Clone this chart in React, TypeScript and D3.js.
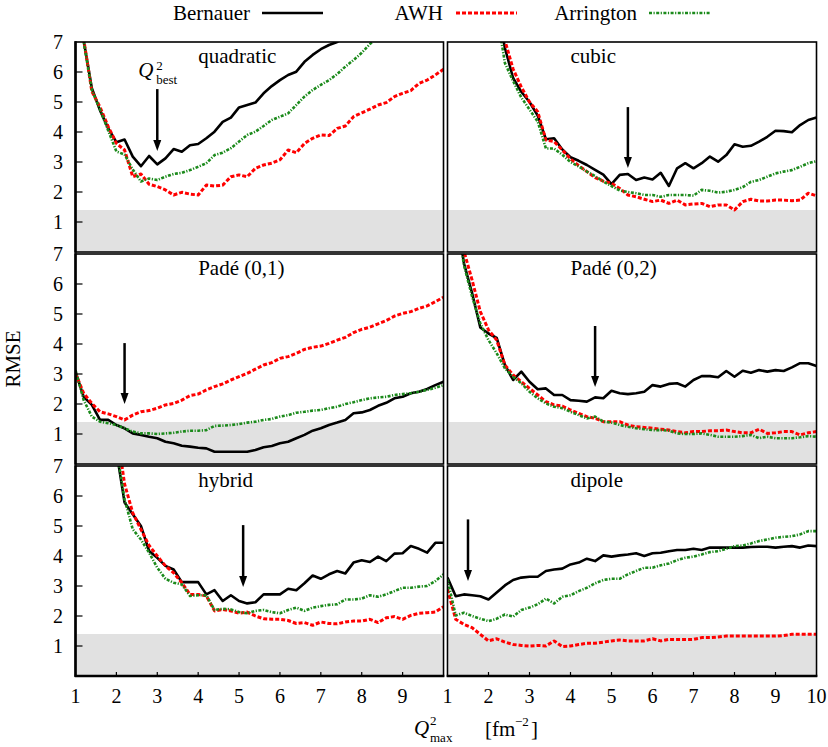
import * as d3 from 'd3'

const W = 828, H = 747
const FONT = '"Liberation Serif", "Times New Roman", serif'
const FS = 20

// Q²max grid [fm^-2]
const QMAX = [1.0, 1.2, 1.4, 1.6, 1.8, 2.0, 2.2, 2.4, 2.6, 2.8, 3.0, 3.2, 3.4, 3.6, 3.8, 4.0, 4.2, 4.4, 4.6, 4.8,
  5.0, 5.2, 5.4, 5.6, 5.8, 6.0, 6.2, 6.4, 6.6, 6.8, 7.0, 7.2, 7.4, 7.6, 7.8, 8.0, 8.2, 8.4, 8.6, 8.8,
  9.0, 9.2, 9.4, 9.6, 9.8, 10.0]

const SERIES = ['Bernauer', 'AWH', 'Arrington']
const TITLES = ['quadratic', 'cubic', 'Padé (0,1)', 'Padé (0,2)', 'hybrid', 'dipole']

// RMSE per panel / series (null = off the chart)
const quadBernauer = [9.5, 7.05, 5.46, 4.72, 4.12, 3.66, 3.75, 3.18, 2.86, 3.2, 2.92, 3.12, 3.43, 3.34, 3.56, 3.6,
  3.79, 4.01, 4.34, 4.48, 4.82, 4.9, 4.98, 5.29, 5.53, 5.73, 5.9, 6.01, 6.34, 6.57, 6.76, 6.9, 7.0, 7.2, 7.45,
  null, null, null, null, null, null, null, null, null, null, null]
const quadAWH = [9.5, 7.1, 5.35, 4.83, 4.18, 3.62, 3.4, 2.51, 2.6, 2.26, 2.18, 2.07, 1.9, 1.99, 1.93, 1.9, 2.23,
  2.2, 2.23, 2.51, 2.57, 2.51, 2.79, 2.9, 2.96, 3.07, 3.4, 3.31, 3.62, 3.79, 3.9, 3.88, 4.12, 4.2, 4.51, 4.64,
  4.76, 4.9, 4.98, 5.18, 5.29, 5.38, 5.62, 5.73, 5.9, 6.09]
const quadArrington = [9.5, 7.0, 5.4, 4.75, 4.05, 3.35, 3.25, 2.75, 2.35, 2.45, 2.4, 2.51, 2.6, 2.64, 2.73, 2.84,
  2.96, 3.23, 3.31, 3.46, 3.68, 3.9, 4.01, 4.2, 4.4, 4.51, 4.62, 4.9, 5.18, 5.4, 5.57, 5.73, 5.93, 6.18, 6.4,
  6.64, 6.93, 7.2, 7.45, null, null, null, null, null, null, null]

const cubBernauer = [null, null, null, null, null, null, 8.3, 6.8, 5.8, 5.34, 5.0, 4.55, 3.76, 3.79, 3.42, 3.16,
  3.04, 2.9, 2.74, 2.58, 2.26, 2.57, 2.6, 2.4, 2.48, 2.42, 2.64, 2.2, 2.79, 2.96, 2.79, 2.96, 3.18, 3.01, 3.23,
  3.59, 3.51, 3.54, 3.68, 3.84, 4.04, 4.03, 3.99, 4.23, 4.4, 4.48]
const cubAWH = [null, null, null, null, null, null, 8.5, 7.05, 6.1, 5.5, 5.0, 4.68, 3.73, 3.68, 3.4, 3.1, 2.88,
  2.68, 2.48, 2.36, 2.29, 2.12, 1.9, 1.84, 1.76, 1.68, 1.73, 1.62, 1.73, 1.57, 1.6, 1.62, 1.51, 1.57, 1.57, 1.4,
  1.68, 1.76, 1.7, 1.7, 1.73, 1.73, 1.71, 1.73, 1.96, 1.87]
const cubArrington = [null, null, null, null, null, null, 8.0, 6.3, 5.7, 5.15, 4.75, 4.35, 3.45, 3.45, 3.24, 3.0,
  2.85, 2.68, 2.53, 2.35, 2.2, 2.05, 2.0, 1.96, 1.9, 1.9, 1.84, 1.9, 1.9, 1.9, 1.88, 2.07, 2.04, 1.98, 2.01,
  2.07, 2.16, 2.34, 2.4, 2.51, 2.62, 2.68, 2.73, 2.84, 2.96, 3.03]

const pade01Bernauer = [3.08, 2.24, 1.97, 1.47, 1.47, 1.3, 1.19, 1.02, 0.97, 0.91, 0.86, 0.74, 0.69, 0.61, 0.58,
  0.54, 0.52, 0.41, 0.41, 0.41, 0.41, 0.41, 0.47, 0.56, 0.6, 0.69, 0.74, 0.86, 0.97, 1.11, 1.19, 1.3, 1.38, 1.47,
  1.69, 1.72, 1.8, 1.94, 2.04, 2.19, 2.24, 2.36, 2.41, 2.5, 2.63, 2.74]
const pade01AWH = [3.02, 2.36, 2.02, 1.74, 1.67, 1.58, 1.47, 1.63, 1.74, 1.78, 1.86, 1.97, 2.02, 2.13, 2.28, 2.33,
  2.47, 2.58, 2.67, 2.8, 2.91, 3.02, 3.16, 3.3, 3.38, 3.52, 3.58, 3.69, 3.82, 3.89, 3.93, 4.02, 4.13, 4.22, 4.38,
  4.49, 4.56, 4.67, 4.78, 4.93, 5.02, 5.08, 5.19, 5.27, 5.41, 5.56]
const pade01Arrington = [3.13, 2.13, 1.58, 1.41, 1.36, 1.3, 1.19, 1.08, 1.02, 1.02, 1.0, 1.02, 1.04, 1.08, 1.11,
  1.11, 1.13, 1.27, 1.28, 1.3, 1.33, 1.38, 1.41, 1.47, 1.5, 1.58, 1.63, 1.71, 1.74, 1.78, 1.8, 1.86, 1.91, 2.0,
  2.06, 2.13, 2.19, 2.22, 2.24, 2.3, 2.33, 2.36, 2.41, 2.47, 2.54, 2.63]

const pade02Bernauer = [null, 8.5, 6.7, 5.7, 4.55, 4.35, 4.2, 3.3, 2.8, 3.08, 2.74, 2.49, 2.52, 2.3, 2.3, 2.13,
  2.11, 2.08, 2.22, 2.19, 2.44, 2.36, 2.33, 2.36, 2.41, 2.63, 2.58, 2.67, 2.69, 2.58, 2.8, 2.93, 2.93, 2.89, 3.1,
  2.91, 3.11, 3.04, 3.13, 3.08, 3.13, 3.1, 3.22, 3.36, 3.36, 3.27]
const pade02AWH = [null, 9.0, 7.1, 6.13, 5.08, 4.47, 4.13, 3.3, 2.97, 2.74, 2.52, 2.3, 2.08, 1.97, 1.93, 1.8,
  1.69, 1.58, 1.52, 1.41, 1.41, 1.41, 1.3, 1.24, 1.22, 1.19, 1.16, 1.13, 1.08, 1.04, 1.08, 1.08, 1.11, 1.11, 1.13,
  1.08, 1.04, 1.04, 1.16, 1.02, 1.04, 1.08, 1.08, 0.97, 1.04, 1.08]
const pade02Arrington = [null, 8.5, 6.63, 5.58, 4.69, 4.13, 3.69, 3.19, 2.91, 2.69, 2.41, 2.19, 2.02, 1.91, 1.86,
  1.74, 1.63, 1.52, 1.58, 1.41, 1.38, 1.3, 1.24, 1.19, 1.16, 1.13, 1.13, 1.11, 1.02, 1.0, 1.0, 1.02, 0.97, 0.91,
  0.91, 0.91, 0.93, 0.97, 0.86, 0.91, 0.86, 0.86, 0.86, 0.89, 0.93, 0.91]

const hybBernauer = [null, null, null, null, 9.5, 7.5, 5.78, 5.39, 5.0, 4.17, 3.94, 3.67, 3.55, 3.13, 3.13, 3.13,
  2.72, 2.86, 2.5, 2.69, 2.5, 2.42, 2.46, 2.72, 2.72, 2.72, 2.91, 2.86, 3.09, 3.35, 3.24, 3.39, 3.5, 3.42, 3.78,
  3.86, 3.8, 3.98, 3.83, 4.08, 4.09, 4.33, 4.24, 4.11, 4.44, 4.44]
const hybAWH = [null, null, null, null, 10, 8.3, 6.4, 5.44, 4.89, 4.35, 4.0, 3.67, 3.44, 3.11, 2.72, 2.72, 2.67,
  2.17, 2.22, 2.17, 2.09, 2.13, 2.0, 1.91, 1.89, 1.89, 1.85, 1.75, 1.78, 1.69, 1.8, 1.75, 1.74, 1.8, 1.83, 1.83,
  1.89, 1.78, 1.94, 1.98, 1.89, 2.02, 2.09, 2.11, 2.13, 2.31]
const hybArrington = [null, null, null, null, 9.5, 7.6, 5.89, 4.89, 4.55, 4.11, 3.61, 3.24, 3.11, 3.05, 2.67, 2.69,
  2.69, 2.2, 2.24, 2.22, 2.13, 2.09, 2.17, 2.2, 2.13, 2.09, 2.2, 2.28, 2.17, 2.28, 2.33, 2.37, 2.39, 2.55, 2.55,
  2.58, 2.69, 2.64, 2.72, 2.83, 2.94, 2.94, 2.98, 3.0, 3.16, 3.39]

const dipBernauer = [3.28, 2.66, 2.72, 2.69, 2.66, 2.55, 2.78, 3.02, 3.2, 3.28, 3.31, 3.31, 3.5, 3.55, 3.58, 3.72,
  3.78, 3.91, 3.83, 4.02, 3.98, 4.02, 4.05, 4.09, 4.0, 4.09, 4.11, 4.16, 4.2, 4.2, 4.24, 4.2, 4.28, 4.28, 4.28,
  4.28, 4.28, 4.3, 4.31, 4.31, 4.28, 4.31, 4.33, 4.28, 4.35, 4.33]
const dipAWH = [2.89, 1.89, 1.72, 1.61, 1.39, 1.17, 1.24, 1.13, 1.05, 1.02, 1.0, 1.02, 1.0, 1.17, 0.98, 1.0, 1.05,
  1.09, 1.09, 1.13, 1.17, 1.2, 1.17, 1.17, 1.17, 1.24, 1.17, 1.22, 1.22, 1.22, 1.22, 1.28, 1.28, 1.3, 1.33, 1.33,
  1.33, 1.33, 1.33, 1.33, 1.33, 1.35, 1.39, 1.39, 1.39, 1.39]
const dipArrington = [3.22, 2.02, 2.11, 2.0, 1.91, 1.83, 1.91, 2.05, 1.98, 2.2, 2.28, 2.39, 2.58, 2.42, 2.64, 2.69,
  2.83, 2.94, 3.09, 3.2, 3.24, 3.24, 3.39, 3.5, 3.61, 3.61, 3.69, 3.75, 3.86, 3.94, 3.98, 4.05, 4.13, 4.16, 4.24,
  4.33, 4.35, 4.42, 4.5, 4.55, 4.61, 4.64, 4.66, 4.72, 4.83, 4.83]

const PANEL_DATA = [
  [quadBernauer, quadAWH, quadArrington],
  [cubBernauer, cubAWH, cubArrington],
  [pade01Bernauer, pade01AWH, pade01Arrington],
  [pade02Bernauer, pade02AWH, pade02Arrington],
  [hybBernauer, hybAWH, hybArrington],
  [dipBernauer, dipAWH, dipArrington],
]

// Q²best arrows: x position, arrow start, arrow tip (RMSE units)
const BEST_Q = [3.0, 5.4, 2.2, 4.6, 5.1, 1.5]
const ARROW_TOP = [5.43, 4.83, 4.03, 4.6, 5.03, 5.22]
const ARROW_TIP = [3.37, 2.8, 2.0, 2.57, 2.97, 3.17]

const BAND_MAX = 1.4
const Y_TICKS = [1, 2, 3, 4, 5, 6, 7]
const X_TICKS = [1, 2, 3, 4, 5, 6, 7, 8, 9, 10]

const STYLE = [
  { color: '#000000', width: 2.6, dash: undefined as string | undefined },
  { color: '#ff0000', width: 3, dash: '4 2' },
  { color: '#1b8a1b', width: 2.6, dash: '3 1.5 1.2 1.5' },
]

// layout
const COLS: [number, number][] = [[75.5, 443.5], [447.5, 816.5]]
const ROW_TOPS = [42, 254, 466]
const PH = 210

const LEGEND = [
  { textEnd: 250, x1: 262, x2: 323 },
  { textEnd: 443, x1: 456, x2: 517 },
  { textEnd: 637, x1: 649, x2: 711 },
]

function Panel({ idx }: { idx: number }) {
  const col = idx % 2, row = Math.floor(idx / 2)
  const [x0, x1] = COLS[col]
  const top = ROW_TOPS[row], bottom = top + PH
  const x = d3.scaleLinear().domain([1, 10]).range([x0, x1])
  const y = d3.scaleLinear().domain([0, 7]).range([bottom, top])
  const clipId = `clip-${idx}`
  const isBottom = row === 2

  const line = d3.line<number | null>()
    .defined((d) => d != null)
    .x((_, i) => x(QMAX[i]))
    .y((d) => y(d as number))

  const ax = x(BEST_Q[idx])
  const aTop = y(ARROW_TOP[idx]), aTip = y(ARROW_TIP[idx])
  const headL = 11, headW = 4

  return (
    <g>
      <defs>
        <clipPath id={clipId}>
          <rect x={x0} y={top} width={x1 - x0} height={PH} />
        </clipPath>
      </defs>
      <rect x={x0 + 1} y={y(BAND_MAX)} width={x1 - x0 - 2} height={y(0) - y(BAND_MAX) - 1} fill="#e1e1e1" />

      <g clipPath={`url(#${clipId})`}>
        {PANEL_DATA[idx].map((vals, s) => (
          <path key={s} d={line(vals) ?? ''} fill="none" stroke={STYLE[s].color}
            strokeWidth={STYLE[s].width} strokeDasharray={STYLE[s].dash} strokeLinejoin="round" />
        ))}
      </g>

      <text x={x(4)} y={top + 21} fontFamily={FONT} fontSize={FS + 1}>{TITLES[idx]}</text>

      {/* Q²best arrow */}
      <line x1={ax} x2={ax} y1={aTop} y2={aTip - headL + 1} stroke="#000" strokeWidth={2.5} />
      <polygon points={`${ax - headW},${aTip - headL} ${ax + headW},${aTip - headL} ${ax},${aTip}`} fill="#000" />
      {idx === 0 && (
        <g fontFamily={FONT}>
          <text x={ax - 19} y={aTop - 12} fontSize={FS + 1} fontStyle="italic">Q</text>
          <text x={ax - 1} y={aTop - 19} fontSize={13}>2</text>
          <text x={ax - 1} y={aTop - 5} fontSize={13}>best</text>
        </g>
      )}

      {/* y ticks and labels on left column */}
      {col === 0 && Y_TICKS.map((t) => (
        <g key={t}>
          {t < 7 && <line x1={x0} x2={x0 + 7} y1={y(t)} y2={y(t)} stroke="#000" strokeWidth={1.2} />}
          <text x={63} y={y(t) + 6.7} textAnchor="end" fontFamily={FONT} fontSize={FS}>{t}</text>
        </g>
      ))}

      {/* x ticks on bottom row */}
      {isBottom && X_TICKS.filter((t) => col === 1 || t < 10).map((t) => (
        <g key={t}>
          {t > 1 && t < 10 && <line x1={x(t)} x2={x(t)} y1={bottom} y2={bottom - 4} stroke="#000" strokeWidth={1.2} />}
          <text x={x(t)} y={703} textAnchor="middle" fontFamily={FONT} fontSize={FS}>{t}</text>
        </g>
      ))}

      <rect x={x0} y={top} width={x1 - x0} height={PH} fill="none" stroke="#000" strokeWidth={1.6} />
      {col === 0 && <line x1={x0} x2={x0} y1={top - 0.8} y2={bottom + 0.8} stroke="#000" strokeWidth={2.6} />}
      {isBottom && <line x1={x0 - 0.8} x2={x1 + 0.8} y1={bottom} y2={bottom} stroke="#000" strokeWidth={2.4} />}
    </g>
  )
}

export default function App() {
  return (
    <svg width={W} height={H} viewBox={`0 0 ${W} ${H}`}
      style={{ position: 'absolute', left: 0, top: 0, display: 'block', background: '#fff' }}>
      <rect width={W} height={H} fill="#fff" />

      {/* legend */}
      {SERIES.map((name, s) => (
        <g key={name}>
          <text x={LEGEND[s].textEnd} y={19.5} textAnchor="end" fontFamily={FONT} fontSize={FS + 1}>{name}</text>
          <line x1={LEGEND[s].x1} x2={LEGEND[s].x2} y1={13} y2={13} stroke={STYLE[s].color}
            strokeWidth={STYLE[s].width} strokeDasharray={STYLE[s].dash} />
        </g>
      ))}

      {TITLES.map((_, i) => <Panel key={i} idx={i} />)}

      {/* axis titles */}
      <text transform="translate(20,359) rotate(-90)" textAnchor="middle" fontFamily={FONT} fontSize={FS + 1}>RMSE</text>
      <g fontFamily={FONT}>
        <text x={414} y={735} fontSize={FS + 1} fontStyle="italic">Q</text>
        <text x={430} y={725} fontSize={13}>2</text>
        <text x={430} y={742} fontSize={13}>max</text>
        <text x={485} y={736} fontSize={FS + 1}>[fm</text>
        <text x={515} y={726} fontSize={13}>−2</text>
        <text x={531} y={736} fontSize={FS + 1}>]</text>
      </g>
    </svg>
  )
}
